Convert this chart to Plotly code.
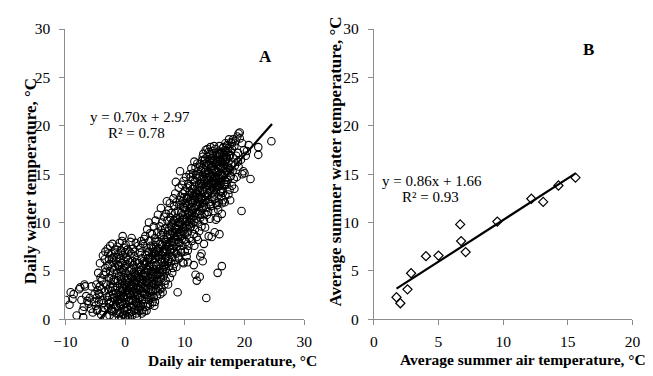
import plotly.graph_objects as go

# ---------------- Panel A: daily data (air, water) ----------------
band_m10_m5 = [(-9.9,2.0),(-9.3,1.5),(-9.1,2.8),(-8.8,2.1),(-8.1,0.4),(-7.7,3.1),(-7.5,3.3),(-7.3,2.0),(-7.1,0.9),(-7.0,0.2),
    (-6.8,3.6),(-6.7,3.4),(-6.5,2.4),(-6.3,1.9),(-6.1,1.6),(-5.9,2.2),(-5.7,1.1),(-5.6,3.4),(-5.4,0.7),(-5.2,1.8),(-5.1,2.6),
    (-8.6,2.6),(-6.9,1.3)]
band_m5_m3 = [(-4.9,1.4),(-4.8,2.2),(-4.7,0.9),(-4.6,3.0),(-4.5,4.8),(-4.4,1.8),(-4.3,2.6),(-4.2,5.8),(-4.1,4.3),(-4.0,0.5),
    (-3.9,3.1),(-3.8,2.0),(-3.7,6.6),(-3.6,4.6),(-3.5,1.2),(-3.4,2.9),(-3.3,7.0),(-3.3,5.3),(-3.2,3.6),(-3.1,0.3),(-3.0,2.3),
    (-4.6,1.0),(-4.2,3.4),(-3.9,4.0),(-3.6,1.7),(-3.4,6.2),(-3.2,4.9),(-4.8,3.6),(-4.4,2.7),(-3.7,0.8)]
band_m3_m1 = [(-2.9,7.3),(-2.9,5.5),(-2.8,3.1),(-2.8,1.2),(-2.7,6.2),(-2.7,4.3),(-2.6,2.4),(-2.6,0.4),(-2.5,7.6),(-2.5,5.0),
    (-2.4,3.7),(-2.4,1.8),(-2.3,6.8),(-2.3,2.9),(-2.2,4.6),(-2.2,0.9),(-2.1,7.8),(-2.1,5.9),(-2.0,3.3),(-2.0,1.5),(-1.9,6.4),
    (-1.9,4.1),(-1.8,2.2),(-1.8,0.2),(-1.7,7.2),(-1.7,5.4),(-1.6,3.9),(-1.6,1.1),(-1.5,6.0),(-1.5,2.7),(-1.4,4.8),(-1.4,0.6),
    (-1.3,7.5),(-1.3,3.4),(-1.2,5.6),(-1.2,1.9),(-1.1,6.7),(-1.1,2.5),(-1.0,4.4),(-1.0,0.0),(-2.6,5.7),(-2.0,2.6),(-1.6,6.9),
    (-1.2,4.0),(-2.4,4.2)]
band_m1_1 = [(-0.9,7.9),(-0.9,5.2),(-0.9,2.1),(-0.8,6.3),(-0.8,3.6),(-0.8,0.7),(-0.7,7.1),(-0.7,4.5),(-0.7,1.4),(-0.6,5.8),
    (-0.6,2.9),(-0.6,0.3),(-0.5,8.1),(-0.5,4.0),(-0.5,1.8),(-0.4,8.6),(-0.4,6.6),(-0.4,3.2),(-0.3,5.1),(-0.3,2.4),(-0.3,0.5),
    (-0.2,7.4),(-0.2,4.3),(-0.2,1.2),(-0.1,6.0),(-0.1,3.7),(-0.1,0.9),(0.0,5.5),(0.0,2.8),(0.0,0.1),(0.1,7.7),(0.1,4.8),
    (0.1,1.6),(0.2,6.4),(0.2,3.3),(0.2,0.4),(0.3,5.7),(0.3,2.2),(0.4,7.2),(0.4,4.1),(0.4,1.0),(0.5,6.1),(0.5,3.0),(0.5,0.2),
    (0.6,5.0),(0.6,1.9),(0.7,7.0),(0.7,3.8),(0.7,0.6),(0.8,5.9),(0.8,2.6),(0.9,4.6),(0.9,1.3),(0.9,8.0),(-0.6,4.9),(0.3,3.9),
    (-0.8,1.6),(0.6,2.7),(0.0,6.9),(0.8,0.3)]
band_1_3 = [(1.0,6.8),(1.0,3.5),(1.0,0.8),(1.1,8.4),(1.1,5.1),(1.1,2.0),(1.2,4.2),(1.2,0.4),(1.3,7.3),(1.3,2.9),(1.4,5.6),
    (1.4,1.5),(1.5,3.8),(1.5,0.9),(1.6,6.5),(1.6,2.4),(1.7,4.7),(1.7,1.1),(1.8,7.9),(1.8,3.2),(1.9,5.3),(1.9,0.6),(2.0,6.1),
    (2.0,2.7),(2.1,4.4),(2.1,1.7),(2.2,7.6),(2.2,3.6),(2.3,5.8),(2.3,0.9),(2.4,2.2),(2.4,4.9),(2.5,6.9),(2.5,3.1),(2.6,1.4),
    (2.6,5.4),(2.7,8.1),(2.7,3.9),(2.8,2.0),(2.8,6.3),(2.9,4.5),(2.9,1.0),(1.2,6.0),(1.5,4.9),(1.8,2.1),(2.0,0.3),(2.3,3.0),
    (2.6,7.4),(2.9,2.9),(1.4,3.4),(1.7,5.9),(2.1,5.0),(2.4,1.2),(2.7,5.1),(1.1,1.3),(1.9,3.9),(2.5,4.2),(2.8,0.6),(1.6,7.0),
    (2.2,2.5)]
band_3_5 = [(3.0,7.8),(3.0,4.1),(3.0,1.6),(3.1,6.0),(3.1,2.7),(3.2,8.3),(3.2,4.8),(3.2,0.8),(3.3,3.5),(3.4,6.7),(3.4,2.1),
    (3.5,5.3),(3.5,1.3),(3.6,7.4),(3.6,3.8),(3.7,9.3),(3.7,5.9),(3.7,2.5),(3.8,4.5),(3.8,1.4),(3.9,7.0),(3.9,3.1),(4.0,10.0),
    (4.0,5.6),(4.0,2.0),(4.1,8.1),(4.1,4.2),(4.2,6.4),(4.2,1.5),(4.3,3.4),(4.3,7.6),(4.4,5.0),(4.4,2.4),(4.5,8.8),(4.5,6.1),
    (4.5,3.9),(4.6,1.8),(4.6,4.7),(4.7,7.3),(4.7,2.9),(4.8,9.6),(4.8,5.5),(4.9,3.6),(4.9,1.4),(4.9,6.8),(3.3,5.7),(3.6,0.9),
    (3.9,5.1),(4.2,8.9),(4.4,3.0),(4.7,5.2),(3.5,4.4),(3.8,6.3),(4.1,2.8),(4.6,6.6),(3.1,3.2),(4.3,4.6),(4.8,2.3),(3.4,8.6),
    (4.0,3.6)]
band_5_7 = [(5.0,8.4),(5.0,4.4),(5.0,1.8),(5.1,6.3),(5.1,10.2),(5.2,3.1),(5.2,7.5),(5.3,5.2),(5.3,2.4),(5.4,9.0),(5.4,4.0),
    (5.5,10.8),(5.5,6.6),(5.5,2.9),(5.6,5.7),(5.6,8.1),(5.7,3.5),(5.7,7.0),(5.8,4.8),(5.8,9.6),(5.9,2.6),(5.9,6.2),(6.0,11.5),
    (6.0,8.7),(6.0,4.2),(6.1,5.9),(6.1,3.2),(6.2,7.7),(6.2,10.0),(6.3,5.1),(6.3,2.8),(6.4,8.9),(6.4,6.8),(6.5,4.5),(6.5,10.6),
    (6.6,7.3),(6.6,3.6),(6.7,9.4),(6.7,5.6),(6.8,8.0),(6.8,4.0),(6.9,6.4),(6.9,10.9),(5.2,5.6),(5.6,4.6),(5.9,7.8),(6.2,6.0),
    (6.5,8.3),(6.8,5.2),(5.4,7.1),(5.8,3.1),(6.1,9.2),(6.4,4.9),(6.7,7.0),(5.1,8.0)]
band_7_9 = [(7.0,12.2),(7.0,8.5),(7.0,5.0),(7.1,10.2),(7.1,6.6),(7.2,3.6),(7.2,9.1),(7.3,7.5),(7.3,11.3),(7.4,5.5),(7.5,12.0),
    (7.5,8.8),(7.5,4.3),(7.6,6.9),(7.6,10.5),(7.7,9.6),(7.7,5.9),(7.8,8.1),(7.8,11.0),(7.9,6.4),(7.9,4.8),(8.0,10.0),(8.0,7.3),
    (8.1,12.5),(8.1,8.9),(8.2,5.7),(8.2,11.7),(8.3,9.5),(8.3,7.0),(8.4,13.0),(8.4,6.1),(8.5,14.2),(8.5,10.4),(8.5,8.2),(8.6,5.4),
    (8.6,12.1),(8.7,9.0),(8.7,7.5),(8.8,2.8),(8.8,11.2),(8.9,6.5),(8.9,10.0),(7.4,7.9),(7.8,9.9),(8.2,8.0),(8.6,9.7),(7.2,6.0),
    (8.0,5.3),(8.4,11.0),(8.8,8.5)]
band_9_11 = [(9.0,13.6),(9.0,9.3),(9.0,6.3),(9.1,11.8),(9.1,7.9),(9.2,15.3),(9.2,10.5),(9.3,8.6),(9.3,12.7),(9.4,6.9),(9.4,11.0),
    (9.5,13.9),(9.5,9.7),(9.6,7.6),(9.6,12.2),(9.7,10.8),(9.7,5.9),(9.8,14.3),(9.8,9.1),(9.8,5.8),(9.9,11.6),(9.9,8.2),(10.0,13.2),
    (10.0,10.0),(10.0,7.0),(10.1,12.0),(10.1,9.4),(10.2,14.7),(10.2,8.0),(10.3,11.3),(10.3,6.5),(10.4,13.6),(10.4,10.4),(10.5,9.0),
    (10.5,12.6),(10.6,7.6),(10.6,14.0),(10.7,11.0),(10.7,9.8),(10.8,15.0),(10.8,8.4),(10.9,12.3),(10.9,10.7),(9.1,10.1),(9.4,8.8),
    (9.7,13.0),(10.0,11.5),(10.3,9.6),(10.6,11.9),(10.9,13.8),(9.3,7.2),(9.9,12.6),(10.5,7.1),(10.8,10.1),(9.6,10.3)]
band_11_13 = [(11.0,14.7),(11.0,9.6),(11.1,12.2),(11.1,15.6),(11.2,8.1),(11.2,11.0),(11.3,13.5),(11.3,9.9),(11.4,15.1),(11.4,12.6),
    (11.5,8.8),(11.5,10.7),(11.6,14.2),(11.6,16.3),(11.7,11.5),(11.7,9.3),(11.8,13.0),(11.8,15.7),(11.9,10.4),(11.9,12.7),
    (12.0,14.6),(12.0,8.5),(12.1,11.8),(12.1,16.1),(12.2,13.3),(12.2,10.0),(12.3,15.0),(12.3,12.1),(12.4,9.1),(12.4,14.0),
    (12.5,11.2),(12.5,16.0),(12.6,13.6),(12.6,10.5),(12.7,15.4),(12.7,12.4),(12.8,9.6),(12.8,14.5),(12.9,11.7),(12.9,16.4),
    (11.1,10.5),(11.4,11.3),(11.7,12.3),(12.0,13.1),(12.3,10.9),(12.6,11.9),(12.9,13.4),(11.3,14.4),(11.9,14.9),(12.5,14.8),
    (11.6,7.6),(12.2,8.2),(12.8,10.8),(11.8,11.0),(12.4,12.6)]
band_13_15 = [(13.0,15.6),(13.0,11.4),(13.1,17.1),(13.1,13.2),(13.2,10.2),(13.2,14.5),(13.3,16.4),(13.3,12.3),(13.4,15.0),(13.4,9.5),
    (13.5,13.7),(13.5,17.5),(13.6,11.6),(13.6,15.9),(13.7,14.1),(13.7,10.8),(13.8,16.8),(13.8,12.8),(13.9,15.3),(13.9,11.1),
    (14.0,13.9),(14.0,17.3),(14.1,12.1),(14.1,16.0),(14.2,14.8),(14.2,10.4),(14.3,17.8),(14.3,13.3),(14.4,15.6),(14.4,11.7),
    (14.5,16.7),(14.5,14.2),(14.5,8.5),(14.6,12.6),(14.6,17.4),(14.7,15.1),(14.7,13.6),(14.8,16.3),(14.8,11.2),(14.9,14.6),
    (14.9,17.9),(13.1,14.0),(13.4,12.7),(13.7,16.2),(14.0,15.0),(14.3,11.9),(14.6,15.9),(14.9,12.9),(13.3,10.9),(13.6,14.7),
    (13.9,13.0),(14.2,16.4),(14.5,13.0),(14.8,14.0),(13.2,16.0),(13.8,14.4),(14.4,14.0),(13.5,15.4),(14.1,13.8),(14.7,16.9)]
band_15_17 = [(15.0,16.5),(15.0,12.4),(15.1,14.7),(15.1,17.6),(15.2,13.4),(15.2,10.3),(15.3,16.0),(15.3,14.1),(15.4,17.2),(15.4,11.8),
    (15.5,15.2),(15.5,10.5),(15.6,13.7),(15.6,16.8),(15.7,14.5),(15.7,12.1),(15.8,17.9),(15.8,8.8),(15.9,15.7),(15.9,13.1),
    (16.0,16.4),(16.0,14.0),(16.1,12.7),(16.1,17.3),(16.2,15.0),(16.2,10.9),(16.3,16.1),(16.3,13.5),(16.4,17.7),(16.4,14.8),
    (16.5,12.3),(16.5,15.6),(16.6,17.0),(16.6,13.9),(16.7,16.3),(16.7,14.4),(16.8,18.2),(16.8,12.8),(16.9,15.3),(16.9,17.4),
    (15.1,15.4),(15.4,16.3),(15.7,15.9),(16.0,15.1),(16.3,14.9),(16.6,16.0),(16.9,14.2),(15.2,12.0),(15.5,13.9),(15.8,14.6),
    (16.1,13.3),(16.4,16.6),(16.7,12.1),(15.3,17.0),(15.9,17.1),(16.5,17.8),(15.6,11.3),(16.2,12.0),(16.8,15.7),(15.0,14.3)]
band_17_19 = [(17.0,16.8),(17.0,13.9),(17.1,18.0),(17.1,15.2),(17.2,14.4),(17.2,17.3),(17.3,12.9),(17.3,16.2),(17.4,18.6),(17.5,15.6),
    (17.5,13.4),(17.6,17.0),(17.7,14.8),(17.7,18.3),(17.8,16.1),(17.9,13.8),(17.9,17.6),(18.0,15.3),(18.1,18.6),(18.1,16.7),
    (18.2,14.5),(18.3,17.9),(18.4,15.9),(18.5,18.4),(18.6,16.9),(18.7,14.7),(18.8,18.9),(18.9,17.2),(19.0,19.2),(19.0,15.8),
    (19.2,19.3),(19.2,18.7),(18.3,13.5),(17.6,12.3),(18.9,16.3)]
band_19_25 = [(19.5,11.2),(19.6,15.0),(19.8,15.3),(20.0,15.1),(20.2,16.9),(20.4,17.4),(20.7,18.0),(21.0,14.5),(22.3,17.8),(22.3,17.0),
    (24.5,18.4),(19.4,16.5),(19.9,17.5),(19.6,18.2)]
outliers_a = [(13.6,2.2),(15.5,4.8),(16.2,5.5),(12.0,4.0),(12.5,4.4),(11.8,4.6),(11.5,5.6),(13.0,6.0),(12.8,6.8),(12.6,6.5),
    (10.5,5.9),(14.0,8.6),(15.0,9.0),(13.2,7.8)]
core_low = [(-2.9,2.0),(-2.7,1.6),(-2.5,3.3),(-2.3,1.1),(-2.1,2.2),(-1.9,0.8),(-1.7,3.0),(-1.5,1.4),(-1.3,2.0),(-1.1,0.6),
    (-0.9,3.0),(-0.7,2.4),(-0.5,3.4),(-0.3,1.5),(-0.1,2.3),(-2.8,6.8),(-2.2,6.3),(-1.8,5.1),(-1.4,6.4),(-1.0,5.5),(-0.6,6.9),
    (-0.2,5.3),(0.1,3.6),(0.3,1.3),(0.5,4.3),(0.7,2.0),(0.9,3.3),(1.1,4.4),(1.3,1.9),(1.5,2.8),(1.7,3.8),(1.9,1.8),(2.1,3.3),
    (2.3,4.3),(2.5,2.3),(2.7,1.4),(2.9,3.7),(0.2,2.5),(0.6,3.5),(1.0,2.5),(1.4,4.1),(1.8,4.5),(2.2,1.4),(2.6,3.4)]
core_mid = [(3.1,4.4),(3.3,2.6),(3.5,3.2),(3.7,4.0),(3.9,2.3),(4.1,5.5),(4.3,2.2),(4.5,4.4),(4.7,3.7),(4.9,4.9),(5.1,3.6),
    (5.3,4.6),(5.5,3.8),(5.7,5.2),(5.9,4.4),(3.2,5.8),(3.6,6.6),(4.0,6.9),(4.4,7.5),(4.8,7.0),(5.2,6.6),(5.6,7.3),(6.1,6.6),
    (6.3,7.0),(6.5,5.4),(6.7,6.2),(6.9,7.6),(7.1,8.0),(7.3,6.2),(7.5,7.2),(7.7,8.4),(7.9,9.0),(8.1,7.6),(8.3,8.6),(8.5,9.3),
    (8.7,10.5),(8.9,8.0),(6.2,4.9),(6.6,5.9),(7.0,7.1),(7.4,9.4),(7.8,7.3),(8.2,10.2),(8.6,6.8)]
core_high = [(9.1,9.0),(9.3,10.0),(9.5,8.3),(9.7,11.6),(9.9,10.4),(10.1,10.8),(10.3,12.5),(10.5,10.9),(10.7,12.8),(10.9,9.5),
    (11.1,11.6),(11.3,12.0),(11.5,12.9),(11.7,13.8),(11.9,11.7),(9.2,12.3),(9.6,9.1),(10.0,8.8),(10.4,11.8),(10.8,13.2),
    (11.2,13.0),(11.6,10.1),(12.1,12.8),(12.3,13.7),(12.5,13.2),(12.7,14.0),(12.9,12.6),(13.1,12.0),(13.3,14.3),(13.5,12.3),
    (13.7,13.4),(13.9,14.6),(14.1,15.1),(14.3,14.7),(14.5,15.4),(14.7,14.3),(14.9,15.5),(12.2,15.3),(12.6,15.8),(13.0,16.8),
    (13.4,16.6),(13.8,17.6),(14.2,17.1),(14.6,16.4),(15.1,16.1),(15.3,15.3),(15.5,16.6),(15.7,17.1),(15.9,16.3),(16.1,15.7),
    (16.3,17.2),(16.5,16.8),(16.7,17.5),(16.9,16.5),(17.1,16.6),(17.3,17.7),(17.5,16.9),(17.7,17.4),(17.9,18.2),(15.2,14.4),
    (15.6,14.9),(16.0,13.2),(16.4,13.1),(16.8,14.0),(17.2,15.8),(17.6,15.4)]

bands_a = [band_m10_m5, band_m5_m3, band_m3_m1, band_m1_1, band_1_3, band_3_5, band_5_7, band_7_9,
           band_9_11, band_11_13, band_13_15, band_15_17, band_17_19, band_19_25, outliers_a,
           core_low, core_mid, core_high]
daily_air = [p[0] for b in bands_a for p in b]
daily_water = [p[1] for b in bands_a for p in b]

fit_a_slope, fit_a_intercept = 0.70, 2.97
fit_a_xrange = [-4.24, 24.6]

# ---------------- Panel B: summer averages ----------------
summer_air = [1.75, 2.05, 2.6, 2.88, 4.03, 5.0, 6.68, 6.75, 7.1, 9.55, 12.18, 13.1, 14.28, 15.6]
summer_water = [2.28, 1.66, 3.1, 4.76, 6.52, 6.59, 9.81, 8.09, 6.95, 10.1, 12.46, 12.13, 13.83, 14.64]
fit_b_slope, fit_b_intercept = 0.86, 1.66
fit_b_xrange = [1.75, 15.6]

W, H = 653, 376
FONT = "Liberation Serif"

def px(x):
    return x / W

def py(y):
    return 1 - y / H

fig = go.Figure()
fig.add_trace(go.Scatter(x=daily_air, y=daily_water, mode="markers",
                         marker=dict(symbol="circle-open", size=7.5, color="black", line=dict(width=1.1, color="black")),
                         xaxis="x", yaxis="y", showlegend=False))
fig.add_trace(go.Scatter(x=fit_a_xrange, y=[fit_a_slope * v + fit_a_intercept for v in fit_a_xrange],
                         mode="lines", line=dict(color="black", width=2.2), xaxis="x", yaxis="y", showlegend=False))
fig.add_trace(go.Scatter(x=summer_air, y=summer_water, mode="markers",
                         marker=dict(symbol="diamond-open", size=7, color="black", line=dict(width=1.2, color="black")),
                         xaxis="x2", yaxis="y2", showlegend=False))
fig.add_trace(go.Scatter(x=fit_b_xrange, y=[fit_b_slope * v + fit_b_intercept for v in fit_b_xrange],
                         mode="lines", line=dict(color="black", width=2.2), xaxis="x2", yaxis="y2", showlegend=False))

axis_common = dict(showgrid=False, zeroline=False, showline=True, linecolor="#8c8c8c", linewidth=1,
                   ticks="outside", ticklen=5, tickcolor="#8c8c8c", tickwidth=1,
                   tickfont=dict(family=FONT, size=15.5, color="black"))
ydom = [py(325), py(21)]
fig.update_layout(
    width=W, height=H, margin=dict(l=0, r=0, t=0, b=0),
    paper_bgcolor="white", plot_bgcolor="white",
    xaxis=dict(domain=[px(55), px(301.5)], range=[-10, 30], dtick=10, anchor="y", ticklabelstandoff=3, **axis_common),
    yaxis=dict(domain=ydom, range=[0, 30], dtick=5, anchor="x", ticklabelstandoff=6, **axis_common),
    xaxis2=dict(domain=[px(373.3), px(640)], range=[0, 20], dtick=5, anchor="y2", ticklabelstandoff=3, **axis_common),
    yaxis2=dict(domain=ydom, range=[0, 30], dtick=5, anchor="x2", ticklabelstandoff=6, **axis_common),
)

def note(text, x, y, size=15, bold=False, angle=0):
    fig.add_annotation(text=f"<b>{text}</b>" if bold else text, x=px(x), y=py(y), xref="paper", yref="paper",
                       showarrow=False, textangle=angle, xanchor="center", yanchor="middle",
                       font=dict(family=FONT, size=size, color="black"))

note("Daily water temperature, °C", 19, 180, size=17, bold=True, angle=-90)
note("Daily air temperature, °C", 227, 368, size=15.5, bold=True)
note("Average summer water temperature, °C", 334, 160, size=17, bold=True, angle=-90)
note("Average summer air temperature, °C", 527, 367, size=15.5, bold=True)
note("y = 0.70x + 2.97", 132, 113)
note("R² = 0.78", 128, 130)
note("y = 0.86x + 1.66", 433, 180)
note("R² = 0.93", 432, 197)
note("A", 262, 50, size=17, bold=True)
note("B", 595, 42, size=17, bold=True)

fig.write_html("out.html")
